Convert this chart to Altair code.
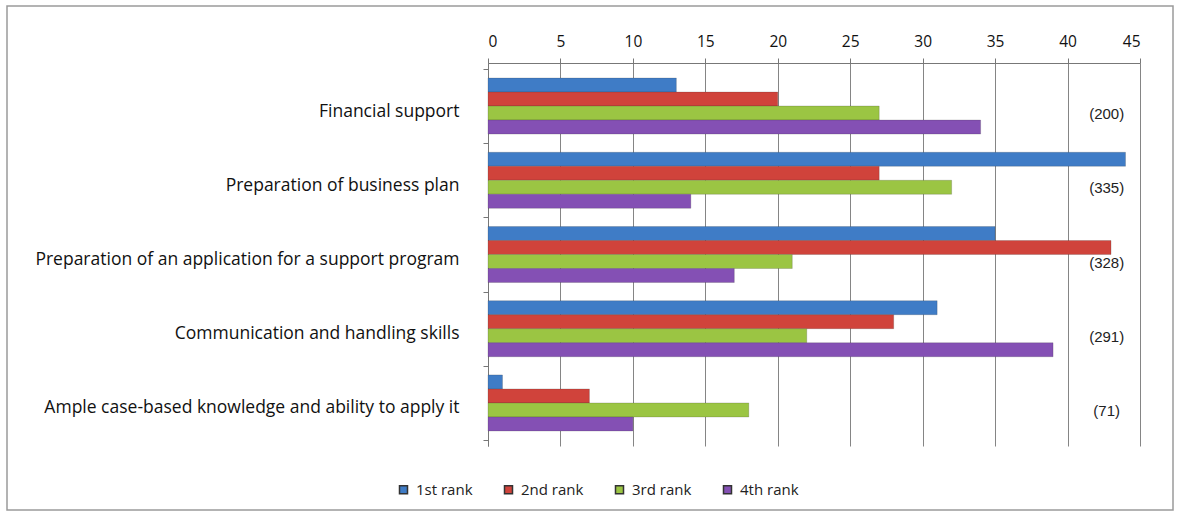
import altair as alt
import pandas as pd

# Support needs, counts of respondents ranking each item 1st..4th
tasks = [
    "Financial support",
    "Preparation of business plan",
    "Preparation of an application for a support program",
    "Communication and handling skills",
    "Ample case-based knowledge and ability to apply it",
]
ranks = ["1st rank", "2nd rank", "3rd rank", "4th rank"]
rank1 = [13, 44, 35, 31, 1]
rank2 = [20, 27, 43, 28, 7]
rank3 = [27, 32, 21, 22, 18]
rank4 = [34, 14, 17, 39, 10]
colors = ["#3F7CC6", "#D0433B", "#9BC543", "#8450B4"]
weights = [4, 3, 2, 1]

series = [rank1, rank2, rank3, rank4]
rows = []
for r, vals in zip(ranks, series):
    for t, v in zip(tasks, vals):
        rows.append({"task": t, "rank": r, "count": v})
df = pd.DataFrame(rows)

# Weighted score per item (4 points for 1st rank ... 1 point for 4th)
scores = [sum(w * s[i] for w, s in zip(weights, series)) for i in range(len(tasks))]
score_df = pd.DataFrame({"task": tasks, "label": [f"({s})" for s in scores], "pos": [42.7] * len(tasks)})

FONT = "Open Sans"

y_enc = alt.Y(
    "task:N",
    sort=tasks,
    scale=alt.Scale(paddingInner=0, paddingOuter=0.08),
    axis=alt.Axis(
        title=None, labelFont=FONT, labelFontSize=17.5, labelColor="#111",
        labelLimit=0, labelPadding=24, labelOffset=5, tickSize=5, tickBand="extent",
        domainColor="#777", tickColor="#777",
    ),
)

bars = alt.Chart(df).mark_bar(stroke="#333", strokeOpacity=0.35, strokeWidth=0.6).encode(
    x=alt.X(
        "count:Q",
        scale=alt.Scale(domain=[0, 45], nice=False),
        axis=alt.Axis(
            orient="top", title=None, values=list(range(0, 46, 5)),
            labelFont=FONT, labelFontSize=15.5, labelColor="#111",
            tickSize=5, labelPadding=9, grid=True, gridColor="#858585",
            domainColor="#777", tickColor="#777",
        ),
    ),
    y=y_enc,
    yOffset=alt.YOffset("rank:N", sort=ranks, scale=alt.Scale(paddingInner=0, paddingOuter=0.65)),
    color=alt.Color(
        "rank:N",
        sort=ranks,
        scale=alt.Scale(domain=ranks, range=colors),
        legend=alt.Legend(
            title=None, orient="none", direction="horizontal",
            legendX=-92, legendY=419, symbolType="square", symbolSize=64,
            labelFont=FONT, labelFontSize=15, labelColor="#222",
            columnPadding=28, labelOffset=5,
        ),
    ),
)

scores_text = alt.Chart(score_df).mark_text(
    font="Liberation Sans", fontSize=15, color="#222", dy=8
).encode(
    x=alt.X("pos:Q"),
    y=alt.Y("task:N", sort=tasks),
    text="label:N",
)

frame = alt.Chart(pd.DataFrame({"k": [0]})).mark_rect(
    fill="transparent", stroke="#9a9a9a", strokeWidth=1.5
).encode(
    x=alt.value(-481), x2=alt.value(685), y=alt.value(-57), y2=alt.value(447)
)

chart = alt.layer(frame, bars, scores_text).properties(
    width=652,
    height=383,
    autosize=alt.AutoSizeParams(type="none"),
    padding={"left": 488, "top": 63, "right": 41, "bottom": 71},
    background="white",
).configure_view(strokeWidth=0)

chart.save("out.html", embed_options={"renderer": "svg", "actions": False})
